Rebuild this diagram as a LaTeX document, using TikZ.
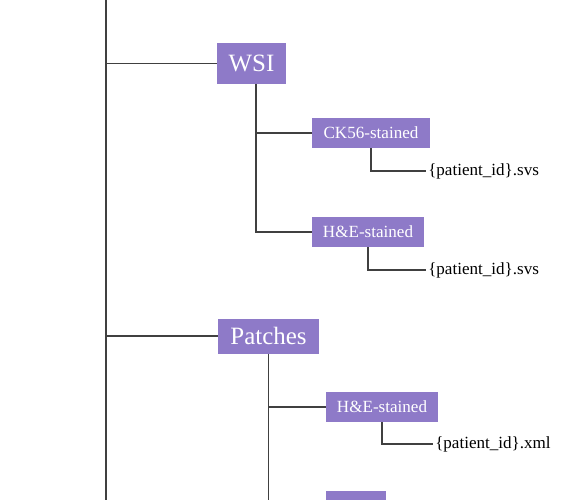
\documentclass[tikz,border=0pt]{standalone}
\usepackage{fontspec}
\setmainfont{Liberation Serif}
\usetikzlibrary{positioning}
\definecolor{folderpurple}{RGB}{142,122,200}

\begin{document}
\begin{tikzpicture}[
    x=0.75pt,
    y=-0.75pt,
    folder/.style={
        fill=folderpurple,
        text=white,
        inner sep=0pt,
        minimum height=22.5pt,
        font=\fontsize{12.8}{14}\selectfont
    },
    topfolder/.style={
        folder,
        font=\fontsize{18.7}{21}\selectfont
    },
    filename/.style={
        anchor=west,
        inner sep=1.5pt,
        font=\fontsize{12.8}{14}\selectfont
    },
    branch/.style={
        draw=black!75,
        line width=0.8pt
    }
]

% Horizontal positions
\def\TrunkX{106}
\def\WsiX{256}

\clip (0,0) rectangle (583,500);

% ==================================================
% Folders
% ==================================================

\node[topfolder, minimum width=51.75pt, minimum height=30.75pt] (wsi)
    at (251.5,63.5) {WSI};

\node[folder, minimum width=88.5pt] (ck56)
    at (371,133) {CK56-stained};

\node[folder, minimum width=84pt] (hewsi)
    at (368,232) {H\&E-stained};

\node[topfolder, minimum width=75.75pt, minimum height=26.25pt] (patches)
    at (268.5,336) {Patches};

\node[folder, minimum width=84pt] (hepatch)
    at (382,407) {H\&E-stained};

\node[folder, minimum width=45pt] (nextpatch)
    at (356,506) {};

% ==================================================
% Files
% ==================================================

\node[filename] (ckfile) at (426,171) {\{patient\_id\}.svs};

\node[filename] (hefile) at (426,270) {\{patient\_id\}.svs};

\node[filename] (xmlfile) at (433,444) {\{patient\_id\}.xml};

% ==================================================
% Tree lines
% ==================================================

\coordinate (roottop) at (\TrunkX,0);
\coordinate (rootend) at (\TrunkX,500);
\coordinate (wsidown) at (\WsiX,84);

\draw[branch] (roottop) -- (rootend);
\draw[branch] (wsi.west -| roottop) -- (wsi.west);
\draw[branch] (patches.west -| roottop) -- (patches.west);

% WSI subfolders
\draw[branch] (wsidown) |- (hewsi.west);
\draw[branch] (wsidown |- ck56.west) -- (ck56.west);
\draw[branch] (ck56.south) |- (ckfile.west);
\draw[branch] (hewsi.south) |- (hefile.west);

% Patches subfolders
\draw[branch] (patches.south) |- (nextpatch.west);
\draw[branch] (patches.south |- hepatch.west) -- (hepatch.west);
\draw[branch] (hepatch.south) |- (xmlfile.west);

\end{tikzpicture}
\end{document}
